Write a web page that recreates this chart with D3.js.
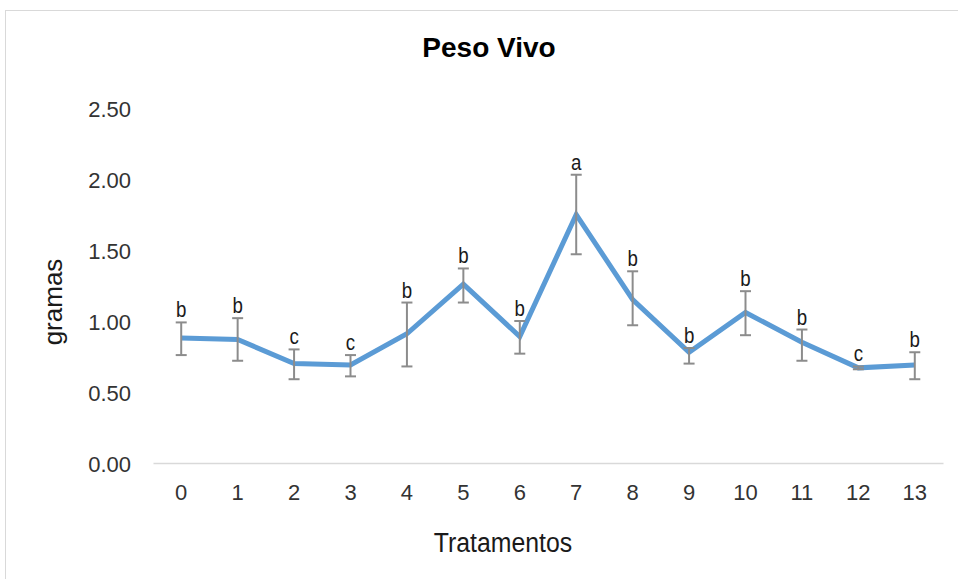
<!DOCTYPE html>
<html><head><meta charset="utf-8">
<script src="https://cdn.jsdelivr.net/npm/d3@7"></script>
<style>body{margin:0;background:#fff;} text{font-family:"Liberation Sans",Arial,sans-serif;}</style>
</head><body>
<svg id="c" width="958" height="579"></svg>
<script>
const categories = ["0","1","2","3","4","5","6","7","8","9","10","11","12","13"];
const means = [0.88,0.87,0.70,0.69,0.91,1.26,0.89,1.75,1.15,0.78,1.06,0.85,0.67,0.69];
const errUpper = [0.99,1.02,0.80,0.76,1.13,1.37,1.00,2.03,1.35,0.81,1.21,0.94,0.68,0.78];
const errLower = [0.76,0.72,0.59,0.61,0.68,1.13,0.77,1.47,0.97,0.70,0.90,0.72,0.66,0.59];
const letters = ["b","b","c","c","b","b","b","a","b","b","b","b","c","b"];
const yTicks = [0,0.5,1,1.5,2,2.5];

const svg = d3.select("#c");
svg.append("rect").attr("x",5.5).attr("y",10.5).attr("width",1000).attr("height",1000)
  .attr("fill","#fff").attr("stroke","#d9d9d9").attr("stroke-width",1);

const x = d3.scaleBand().domain(categories).range([153,943]);
const y = d3.scaleLinear().domain([0,2.5]).range([463,108]);
const cx = d => x(d)+x.bandwidth()/2;

svg.append("text").attr("x",489).attr("y",57).attr("text-anchor","middle")
  .attr("font-size",28).attr("font-weight","bold").attr("fill","#000").text("Peso Vivo");

// y axis labels
const ya = svg.append("g").attr("transform","translate(131,0)")
  .call(d3.axisLeft(y).tickValues(yTicks).tickFormat(d3.format(".2f")).tickSize(0).tickPadding(0));
ya.select(".domain").remove();
ya.selectAll("text").attr("font-size",22).attr("fill","#333").attr("dy","0.37em")
  .attr("font-family","Liberation Sans,Arial,sans-serif");

// x axis
const xa = svg.append("g").attr("transform","translate(0,463)")
  .call(d3.axisBottom(x).tickSize(0).tickPadding(21));
xa.select(".domain").attr("stroke","#d9d9d9").attr("stroke-width",1.5);
xa.selectAll("text").attr("font-size",22).attr("fill","#333")
  .attr("font-family","Liberation Sans,Arial,sans-serif");

svg.append("text").attr("transform","translate(503,552) scale(0.92,1)").attr("text-anchor","middle")
  .attr("font-size",27).attr("fill","#1a1a1a").text("Tratamentos");
svg.append("text").attr("transform","translate(62,302) rotate(-90)").attr("text-anchor","middle")
  .attr("font-size",26).attr("fill","#1a1a1a").text("gramas");

// line
const line = d3.line().x((d,i)=>cx(categories[i])).y(d=>y(d));
svg.append("path").datum(means).attr("d",line).attr("fill","none")
  .attr("stroke","#5b9bd5").attr("stroke-width",5).attr("stroke-linejoin","miter");

// error bars
const eg = svg.append("g").attr("stroke","#8c8c8c").attr("stroke-width",2);
categories.forEach((c,i)=>{
  const xx = cx(c);
  eg.append("line").attr("x1",xx).attr("x2",xx).attr("y1",y(errUpper[i])).attr("y2",y(errLower[i]));
  [errUpper[i],errLower[i]].forEach(v=>{
    eg.append("line").attr("x1",xx-5.5).attr("x2",xx+5.5).attr("y1",y(v)).attr("y2",y(v));
  });
});

// letters
svg.selectAll(".lt").data(letters).enter().append("text")
  .attr("transform",(d,i)=>`translate(${cx(categories[i])},${y(errUpper[i])-5}) scale(0.85,1)`)
  .attr("text-anchor","middle").attr("font-size",22).attr("fill","#1a1a1a").text(d=>d);
</script>
</body></html>
